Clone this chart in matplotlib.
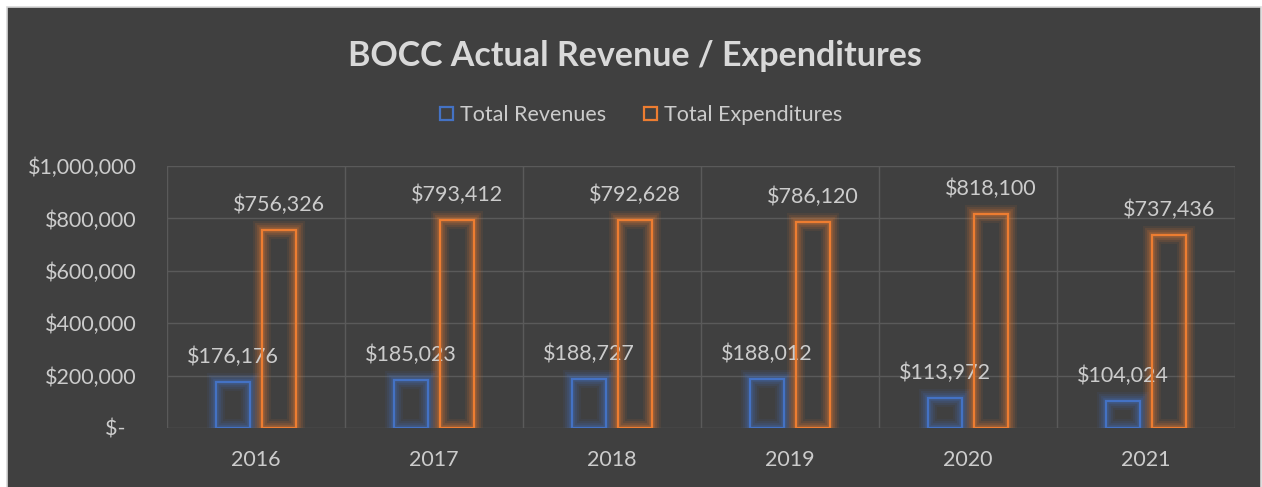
import matplotlib
matplotlib.use("Agg")
import matplotlib.pyplot as plt
from matplotlib.patches import Rectangle, Patch
import numpy as np

years = ["2016", "2017", "2018", "2019", "2020", "2021"]
revenues = [176176, 185023, 188727, 188012, 113972, 104024]
expenditures = [756326, 793412, 792628, 786120, 818100, 737436]
yticks = [0, 200000, 400000, 600000, 800000, 1000000]

BG = "#404040"
TXT = "#cccccc"
GRID = "#5a5a5a"
BLUE = "#4472C4"
ORANGE = "#ED7D31"

plt.rcParams["font.family"] = ["Lato", "DejaVu Sans"]

W, H = 1262, 487
fig = plt.figure(figsize=(W / 100, H / 100), dpi=100, facecolor="white")
# dark chart panel, running off the bottom edge
fig.patches.append(Rectangle((7 / W, -0.05), 1 - 8 / W, 1.05 - 7 / H, transform=fig.transFigure,
                             facecolor=BG, edgecolor="#d8d8d8", lw=1.2, zorder=-10))

ax = fig.add_axes([167 / W, 59 / H, (1235 - 167) / W, (428 - 166) / H])
ax.set_facecolor(BG)
ax.patch.set_alpha(0)

x = np.arange(len(years))
width = 0.19
off = 0.128


def glow_bars(xs, vals, color):
    for lw, a in [(13, 0.08), (10, 0.12), (7, 0.16), (4, 0.22)]:
        ax.bar(xs, vals, width, facecolor="none", edgecolor=color, lw=lw, alpha=a, zorder=3)
    ax.bar(xs, vals, width, facecolor="none", edgecolor=color, lw=1.6, zorder=4)


glow_bars(x - off, revenues, BLUE)
glow_bars(x + off, expenditures, ORANGE)

for xs, vals in [(x - off, revenues), (x + off, expenditures)]:
    for xi, v in zip(xs, vals):
        ax.annotate(f"${v:,}", (xi, v), xytext=(0, 25), textcoords="offset pixels",
                    ha="center", va="center", color=TXT, fontsize=15.5)

ax.set_xlim(-0.5, len(years) - 0.5)
ax.set_ylim(0, 1000000)
ax.set_yticks(yticks)
ax.set_yticklabels([f"${v:,}" if v else "$-  " for v in yticks])
ax.set_xticks(x)
ax.set_xticklabels(years)
ax.set_xticks(np.arange(-0.5, len(years)), minor=True)
ax.tick_params(axis="both", length=0, colors=TXT, labelsize=15.5)
ax.tick_params(axis="y", pad=22)
ax.tick_params(axis="x", pad=16)
ax.tick_params(which="minor", length=0)
ax.grid(axis="y", color=GRID, lw=1)
ax.grid(axis="x", which="minor", color=GRID, lw=1)
ax.grid(axis="x", which="major", visible=False)
for s in ax.spines.values():
    s.set_visible(False)

fig.text(0.503, (H - 56) / H, "BOCC Actual Revenue / Expenditures", ha="center", va="center",
         color="#d9d9d9", fontsize=24.5, fontweight="bold")

handles = [Patch(facecolor="none", edgecolor=BLUE, lw=1.6, label="Total Revenues"),
           Patch(facecolor="none", edgecolor=ORANGE, lw=1.6, label="Total Expenditures")]
fig.legend(handles=handles, loc="center", bbox_to_anchor=(0.508, (H - 115) / H), ncol=2,
           frameon=False, fontsize=15.5, labelcolor=TXT, handlelength=0.6, handleheight=0.6,
           handletextpad=0.3, columnspacing=1.8)

fig.savefig("out.png", dpi=100, facecolor=fig.get_facecolor())
